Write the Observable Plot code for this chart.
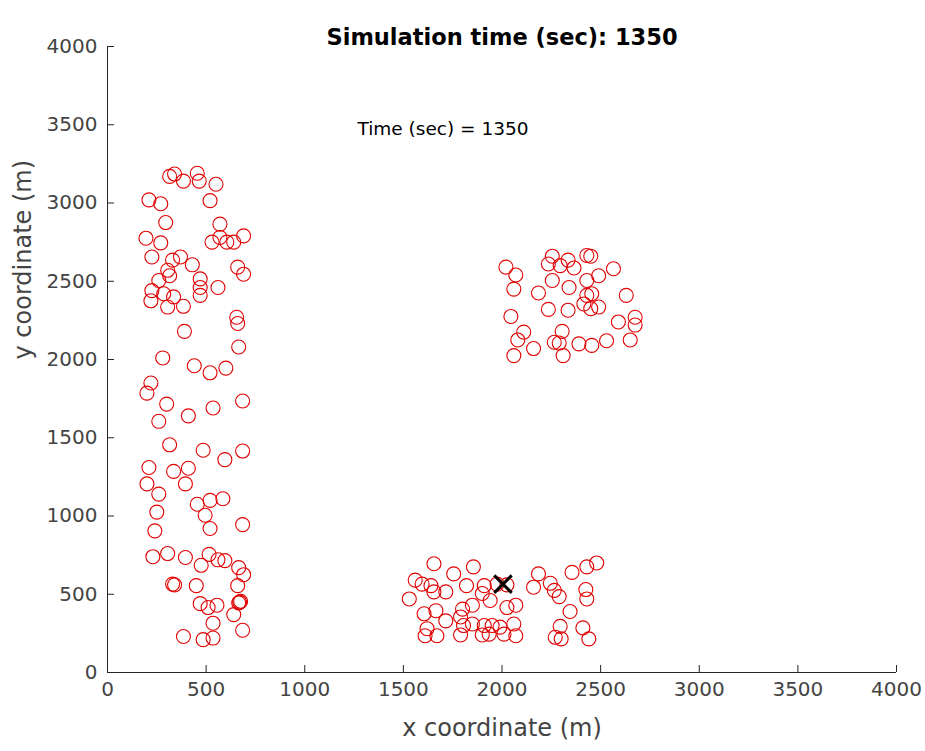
<!DOCTYPE html>
<html><head><meta charset="utf-8">
<script src="https://cdn.jsdelivr.net/npm/d3@7"></script>
<script src="https://cdn.jsdelivr.net/npm/@observablehq/plot@0.6"></script>
<style>body{margin:0;background:#fff}</style>
</head><body><div id="chart"></div>
<script>
// Node positions (m)
const nodeX = [
  315,340,385,455,465,550,210,270,520,295,570,195,270,530,570,605,640,690,225,330,370,430,660,690,305,315,260,470,470,560,225,470,285,335,220,305,385,655,660,390,665,280,440,520,600,220,200,300,535,685,260,410,315,485,595,685,210,335,410,200,395,260,455,520,585,250,495,520,240,685,230,305,395,475,515,560,595,665,690,330,340,450,660,670,675,665,470,510,555,640,535,685,385,485,535,
  2020,2070,2060,2255,2235,2295,2335,2365,2430,2450,2565,2490,2255,2340,2430,2185,2430,2455,2415,2450,2490,2630,2235,2335,2045,2590,2675,2675,2110,2080,2160,2305,2265,2290,2390,2455,2530,2650,2310,2060,
  1655,1855,1755,1560,1595,1640,1820,1910,1975,2025,1530,1655,1715,1900,1940,1850,1800,2025,2070,1605,1665,1790,1715,1850,1620,1805,1910,1950,1990,2060,1610,1670,1790,1900,1935,2010,2070,
  2185,2160,2245,2265,2290,2355,2430,2480,2425,2430,2345,2295,2270,2300,2410,2440
];
const nodeY = [
  3170,3185,3140,3190,3140,3120,3020,2995,3015,2875,2865,2775,2745,2750,2780,2750,2750,2790,2655,2635,2655,2605,2590,2545,2570,2535,2505,2515,2460,2460,2440,2410,2420,2400,2375,2335,2340,2270,2230,2180,2080,2010,1960,1915,1945,1850,1785,1715,1690,1735,1605,1640,1455,1420,1360,1415,1310,1285,1305,1205,1205,1140,1075,1100,1110,1025,1005,920,905,945,740,760,735,685,755,720,715,670,625,565,560,555,555,450,455,445,440,415,430,370,315,270,230,210,220,
  2590,2540,2450,2660,2610,2600,2635,2585,2665,2660,2580,2535,2505,2460,2505,2425,2410,2420,2355,2325,2335,2410,2320,2315,2275,2240,2270,2220,2175,2125,2070,2180,2110,2105,2100,2090,2120,2125,2025,2025,
  695,675,630,590,565,555,555,555,565,560,470,515,515,505,460,430,405,415,430,375,395,355,330,310,280,300,300,300,290,310,235,235,240,240,245,245,235,
  630,545,570,525,485,640,675,700,530,470,390,295,225,215,285,215
];
// Sink / base station marker
const sinkX = [2005];
const sinkY = [565];
// Axis ticks
const xTicks = [0,500,1000,1500,2000,2500,3000,3500,4000];
const yTicks = [0,500,1000,1500,2000,2500,3000,3500,4000];
// Texts
const titleText = ["Simulation time (sec): 1350"];
const annotText = ["Time (sec) = 1350"];
const annotX = [1267];
const annotY = [3470];
const xLabel = ["x coordinate (m)"];
const yLabel = ["y coordinate (m)"];

const nodes = nodeX.map((x, i) => ({x, y: nodeY[i]}));
const sink = sinkX.map((x, i) => ({x, y: sinkY[i]}));
const annot = annotText.map((t, i) => ({t, x: annotX[i], y: annotY[i]}));
const axisColor = "#262626";

const chart = Plot.plot({
  width: 925,
  height: 751,
  marginLeft: 107,
  marginRight: 29,
  marginTop: 46,
  marginBottom: 79,
  style: {fontFamily: "DejaVu Sans", fontSize: "20px", color: "#444", background: "#fff"},
  x: {domain: [0, 4000], ticks: xTicks, tickFormat: d => String(d), tickSize: 0, tickPadding: 9, label: null},
  y: {domain: [0, 4000], ticks: yTicks, tickFormat: d => String(d), tickSize: 0, tickPadding: 10, label: null},
  marks: [
    Plot.ruleY([0], {stroke: axisColor, strokeWidth: 1}),
    Plot.ruleX([0], {stroke: axisColor, strokeWidth: 1}),
    Plot.tickX(xTicks, {x: d => d, stroke: axisColor, insetTop: 619}),
    Plot.tickY(yTicks, {y: d => d, stroke: axisColor, insetRight: 782}),
    Plot.dot(nodes, {x: "x", y: "y", r: 7, stroke: "#e00000", strokeWidth: 1.1, fill: "none"}),
    Plot.dot(sink, {x: "x", y: "y", r: 8, symbol: "times", stroke: "#000", strokeWidth: 3}),
    Plot.text(annot, {x: "x", y: "y", text: "t", textAnchor: "start", fontSize: 18.5, fill: "#000"}),
    Plot.text(titleText, {frameAnchor: "top", dy: -17, fontSize: 22.5, fontWeight: "bold", fill: "#000"}),
    Plot.text(xLabel, {frameAnchor: "bottom", dy: 63, fontSize: 24, fill: "#444"}),
    Plot.text(yLabel, {frameAnchor: "left", dx: -84, rotate: -90, fontSize: 24, fill: "#444"})
  ]
});
document.getElementById("chart").appendChild(chart);
</script>
</body></html>
